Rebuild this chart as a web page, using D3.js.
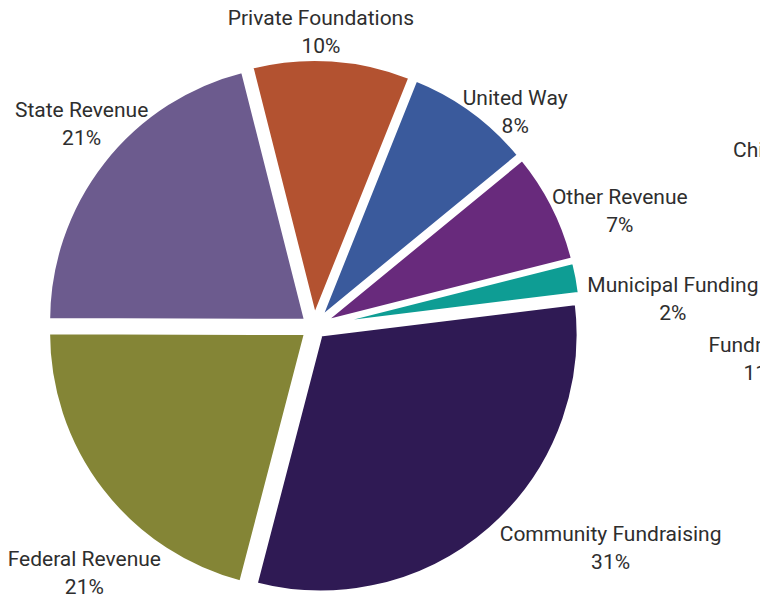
<!DOCTYPE html>
<html>
<head>
<meta charset="utf-8">
<script src="https://cdn.jsdelivr.net/npm/d3@7"></script>
<style>
  html, body { margin: 0; padding: 0; background: #fff; overflow: hidden; }
  svg text { font-family: Roboto, "Noto Sans", sans-serif; font-size: 21px; fill: #2e2e2e; }
</style>
</head>
<body>
<div id="viz"></div>
<script>
// data, clockwise from the right edge
const categories = ['Community Fundraising', 'Federal Revenue', 'State Revenue', 'Private Foundations',
  'United Way', 'Other Revenue', 'Municipal Funding'];
const shares = [31, 21, 21, 10, 8, 7, 2];
const colors = ['#2f1a54', '#848536', '#6c5b8e', '#b35230', '#3a5a9c', '#682a7c', '#0e9d94'];

// labels of a neighbouring chart, cut off by the right edge
const clippedNames = ['Children\u2019s Services', 'Fundraising'];
const clippedShares = [null, 11];

const width = 760, height = 597;
const cx = 314, cy = 327, radius = 258, explode = 10;
const startDeg = 83;
const lineGap = 28;

// hand tuned label offsets from the bisector point (label layout only)
const labelNudge = {
  'Community Fundraising': [99, -5],
  'Federal Revenue': [8, 63],
  'State Revenue': [4, -18],
  'Private Foundations': [-13, 4],
  'United Way': [24, 27],
  'Other Revenue': [38, 19],
  'Municipal Funding': [64, 27]
};

const svg = d3.select('#viz').append('svg')
  .attr('width', width)
  .attr('height', height);

const rows = categories.map((c, i) => ({ name: c, value: shares[i], color: colors[i] }));

const pie = d3.pie()
  .sort(null)
  .value(d => d.value)
  .startAngle(startDeg * Math.PI / 180)
  .endAngle(startDeg * Math.PI / 180 + 2 * Math.PI);

const arc = d3.arc().innerRadius(0).outerRadius(radius);
const labelArc = d3.arc().innerRadius(300).outerRadius(300);

const arcs = pie(rows);
const g = svg.append('g').attr('transform', `translate(${cx},${cy})`);

g.selectAll('path.slice')
  .data(arcs)
  .join('path')
  .attr('class', 'slice')
  .attr('d', arc)
  .attr('fill', d => d.data.color)
  .attr('stroke', '#fff')
  .attr('stroke-width', 4)
  .attr('stroke-linejoin', 'round')
  .attr('transform', d => {
    const a = (d.startAngle + d.endAngle) / 2;
    return `translate(${Math.sin(a) * explode},${-Math.cos(a) * explode})`;
  });

g.selectAll('text.lbl')
  .data(arcs)
  .join('text')
  .attr('class', 'lbl')
  .attr('text-anchor', 'middle')
  .each(function (d) {
    const [px, py] = labelArc.centroid(d);
    const [nx, ny] = labelNudge[d.data.name];
    const x = px + nx, y = py + ny - 7;
    const t = d3.select(this);
    t.append('tspan').attr('x', x).attr('y', y).text(d.data.name);
    t.append('tspan').attr('x', x).attr('y', y + lineGap).text(d.data.value + '%');
  });

// clipped labels at the right edge
const clip = svg.append('g');
const clipPos = [[733, 157, 'start'], [763, 352, 'middle']];
clippedNames.forEach((n, i) => {
  const [x, y, anchor] = clipPos[i];
  const t = clip.append('text').attr('text-anchor', anchor);
  t.append('tspan').attr('x', x).attr('y', y).text(n);
  if (clippedShares[i] != null) {
    t.append('tspan').attr('x', x).attr('y', y + lineGap).text(clippedShares[i] + '%');
  }
});
</script>
</body>
</html>
